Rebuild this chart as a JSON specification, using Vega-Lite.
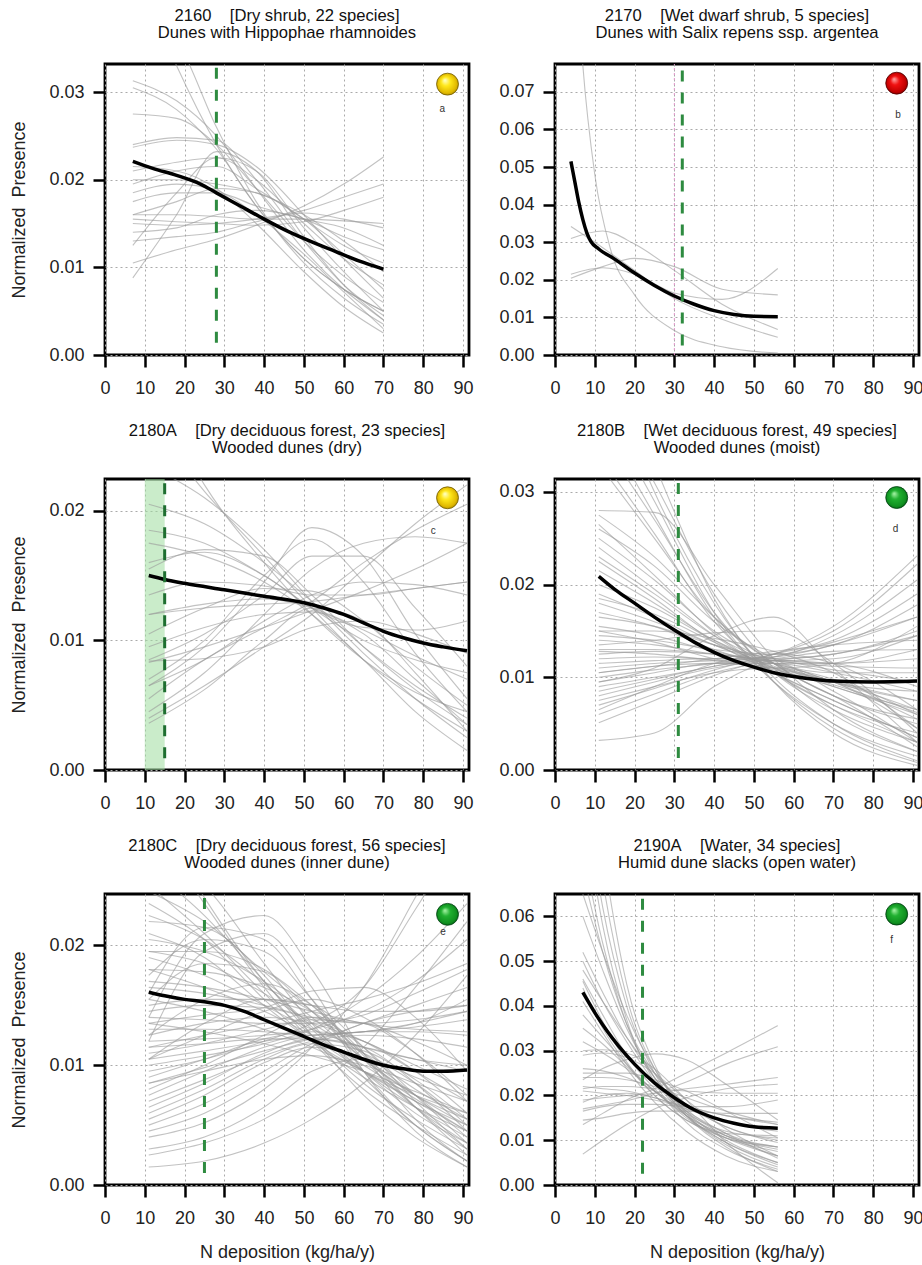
{
"$schema": "https://vega.github.io/schema/vega-lite/v6.json",
"padding": {"left": 9, "top": 7, "right": 3, "bottom": 2},
"config": {
 "font": "Liberation Sans",
 "view": {"stroke": "black", "strokeWidth": 2.8},
 "axis": {"domain": false, "tickColor": "black", "tickWidth": 2.5, "tickSize": 12, "labelFontSize": 18, "labelColor": "#222", "labelPadding": 9, "labelFlush": false, "labelOverlap": false, "grid": true, "gridColor": "#aaaaaa", "gridDash": [2, 3], "gridWidth": 1, "titleFontSize": 18, "titleFontWeight": "normal", "titleColor": "#222"},
 "axisY": {"titlePadding": 20},
 "axisX": {"titlePadding": 16, "labelPadding": 12},
 "title": {"fontSize": 16.6, "fontWeight": "normal", "color": "#111", "offset": 21, "lineHeight": 16.5}
},
"datasets": {
 "a": [
{"s":1,"x":7,"y":0.0313},{"s":1,"x":18,"y":0.029},{"s":1,"x":28,"y":0.025},{"s":1,"x":38,"y":0.019},{"s":1,"x":50,"y":0.012},{"s":1,"x":60,"y":0.0075},{"s":1,"x":70,"y":0.004},
{"s":2,"x":7,"y":0.0305},{"s":2,"x":18,"y":0.028},{"s":2,"x":28,"y":0.0235},{"s":2,"x":38,"y":0.017},{"s":2,"x":50,"y":0.011},{"s":2,"x":60,"y":0.0075},{"s":2,"x":70,"y":0.005},
{"s":3,"x":7,"y":0.0275},{"s":3,"x":18,"y":0.027},{"s":3,"x":28,"y":0.024},{"s":3,"x":38,"y":0.019},{"s":3,"x":50,"y":0.013},{"s":3,"x":60,"y":0.009},{"s":3,"x":70,"y":0.006},
{"s":4,"x":7,"y":0.024},{"s":4,"x":18,"y":0.0248},{"s":4,"x":28,"y":0.0245},{"s":4,"x":38,"y":0.02},{"s":4,"x":50,"y":0.013},{"s":4,"x":60,"y":0.008},{"s":4,"x":70,"y":0.0045},
{"s":5,"x":7,"y":0.021},{"s":5,"x":18,"y":0.022},{"s":5,"x":28,"y":0.0225},{"s":5,"x":38,"y":0.02},{"s":5,"x":50,"y":0.015},{"s":5,"x":60,"y":0.011},{"s":5,"x":70,"y":0.008},
{"s":6,"x":7,"y":0.0195},{"s":6,"x":18,"y":0.021},{"s":6,"x":28,"y":0.0215},{"s":6,"x":38,"y":0.019},{"s":6,"x":50,"y":0.0155},{"s":6,"x":60,"y":0.0125},{"s":6,"x":70,"y":0.0105},
{"s":7,"x":7,"y":0.0175},{"s":7,"x":18,"y":0.0185},{"s":7,"x":28,"y":0.0185},{"s":7,"x":38,"y":0.017},{"s":7,"x":50,"y":0.0155},{"s":7,"x":60,"y":0.0145},{"s":7,"x":70,"y":0.0125},
{"s":8,"x":7,"y":0.016},{"s":8,"x":18,"y":0.016},{"s":8,"x":28,"y":0.0158},{"s":8,"x":38,"y":0.0155},{"s":8,"x":50,"y":0.0155},{"s":8,"x":60,"y":0.0153},{"s":8,"x":70,"y":0.015},
{"s":9,"x":7,"y":0.0155},{"s":9,"x":18,"y":0.0152},{"s":9,"x":28,"y":0.015},{"s":9,"x":38,"y":0.0148},{"s":9,"x":50,"y":0.0152},{"s":9,"x":60,"y":0.0165},{"s":9,"x":70,"y":0.018},
{"s":10,"x":7,"y":0.015},{"s":10,"x":18,"y":0.0148},{"s":10,"x":28,"y":0.015},{"s":10,"x":38,"y":0.0155},{"s":10,"x":50,"y":0.0165},{"s":10,"x":60,"y":0.018},{"s":10,"x":70,"y":0.0195},
{"s":11,"x":7,"y":0.0105},{"s":11,"x":18,"y":0.012},{"s":11,"x":28,"y":0.0132},{"s":11,"x":38,"y":0.0148},{"s":11,"x":50,"y":0.017},{"s":11,"x":60,"y":0.0195},{"s":11,"x":70,"y":0.0226},
{"s":12,"x":7,"y":0.014},{"s":12,"x":18,"y":0.0145},{"s":12,"x":28,"y":0.016},{"s":12,"x":38,"y":0.0165},{"s":12,"x":50,"y":0.0155},{"s":12,"x":60,"y":0.0135},{"s":12,"x":70,"y":0.012},
{"s":13,"x":7,"y":0.0088},{"s":13,"x":18,"y":0.016},{"s":13,"x":28,"y":0.0232},{"s":13,"x":38,"y":0.021},{"s":13,"x":50,"y":0.0135},{"s":13,"x":60,"y":0.008},{"s":13,"x":70,"y":0.004},
{"s":14,"x":7,"y":0.0125},{"s":14,"x":18,"y":0.0185},{"s":14,"x":28,"y":0.0225},{"s":14,"x":38,"y":0.021},{"s":14,"x":50,"y":0.0145},{"s":14,"x":60,"y":0.0095},{"s":14,"x":70,"y":0.005},
{"s":15,"x":7,"y":0.045},{"s":15,"x":18,"y":0.033},{"s":15,"x":28,"y":0.024},{"s":15,"x":38,"y":0.017},{"s":15,"x":50,"y":0.011},{"s":15,"x":60,"y":0.0075},{"s":15,"x":70,"y":0.005},
{"s":16,"x":7,"y":0.04},{"s":16,"x":18,"y":0.036},{"s":16,"x":28,"y":0.026},{"s":16,"x":38,"y":0.0175},{"s":16,"x":50,"y":0.0105},{"s":16,"x":60,"y":0.0065},{"s":16,"x":70,"y":0.0035},
{"s":17,"x":7,"y":0.0237},{"s":17,"x":18,"y":0.0245},{"s":17,"x":28,"y":0.024},{"s":17,"x":38,"y":0.0215},{"s":17,"x":50,"y":0.016},{"s":17,"x":60,"y":0.011},{"s":17,"x":70,"y":0.0065},
{"s":18,"x":7,"y":0.02},{"s":18,"x":18,"y":0.02},{"s":18,"x":28,"y":0.0195},{"s":18,"x":38,"y":0.0185},{"s":18,"x":50,"y":0.016},{"s":18,"x":60,"y":0.013},{"s":18,"x":70,"y":0.0095},
{"s":19,"x":7,"y":0.016},{"s":19,"x":18,"y":0.0175},{"s":19,"x":28,"y":0.019},{"s":19,"x":38,"y":0.0185},{"s":19,"x":50,"y":0.0155},{"s":19,"x":60,"y":0.0115},{"s":19,"x":70,"y":0.0075},
{"s":20,"x":7,"y":0.0185},{"s":20,"x":18,"y":0.0195},{"s":20,"x":28,"y":0.0188},{"s":20,"x":38,"y":0.016},{"s":20,"x":50,"y":0.0115},{"s":20,"x":60,"y":0.0072},{"s":20,"x":70,"y":0.003},
{"s":21,"x":7,"y":0.0215},{"s":21,"x":18,"y":0.021},{"s":21,"x":28,"y":0.019},{"s":21,"x":38,"y":0.015},{"s":21,"x":50,"y":0.0095},{"s":21,"x":60,"y":0.0055},{"s":21,"x":70,"y":0.0025},
{"s":22,"x":7,"y":0.013},{"s":22,"x":18,"y":0.0135},{"s":22,"x":28,"y":0.014},{"s":22,"x":38,"y":0.0152},{"s":22,"x":50,"y":0.0162},{"s":22,"x":60,"y":0.0155},{"s":22,"x":70,"y":0.0145}
 ],
 "b": [
{"s":1,"x":4,"y":0.13},{"s":1,"x":7,"y":0.077},{"s":1,"x":10,"y":0.048},{"s":1,"x":14,"y":0.028},{"s":1,"x":20,"y":0.016},{"s":1,"x":30,"y":0.0065},{"s":1,"x":42,"y":0.0022},{"s":1,"x":56,"y":0.0005},
{"s":2,"x":4,"y":0.0342},{"s":2,"x":10,"y":0.03},{"s":2,"x":20,"y":0.0225},{"s":2,"x":30,"y":0.015},{"s":2,"x":42,"y":0.0095},{"s":2,"x":56,"y":0.0047},
{"s":3,"x":4,"y":0.031},{"s":3,"x":12,"y":0.033},{"s":3,"x":20,"y":0.0295},{"s":3,"x":30,"y":0.0225},{"s":3,"x":42,"y":0.0135},{"s":3,"x":56,"y":0.0068},
{"s":4,"x":4,"y":0.0204},{"s":4,"x":12,"y":0.0235},{"s":4,"x":20,"y":0.0257},{"s":4,"x":30,"y":0.0235},{"s":4,"x":42,"y":0.0175},{"s":4,"x":56,"y":0.016},
{"s":5,"x":4,"y":0.0215},{"s":5,"x":12,"y":0.0232},{"s":5,"x":20,"y":0.0215},{"s":5,"x":30,"y":0.0165},{"s":5,"x":42,"y":0.0148},{"s":5,"x":56,"y":0.023}
 ],
 "c": [
{"s":1,"x":11,"y":0.03},{"s":1,"x":25,"y":0.022},{"s":1,"x":40,"y":0.016},{"s":1,"x":52,"y":0.012},{"s":1,"x":65,"y":0.0085},{"s":1,"x":78,"y":0.006},{"s":1,"x":91,"y":0.0045},
{"s":2,"x":11,"y":0.027},{"s":2,"x":25,"y":0.0215},{"s":2,"x":40,"y":0.0165},{"s":2,"x":52,"y":0.0125},{"s":2,"x":65,"y":0.0085},{"s":2,"x":78,"y":0.0055},{"s":2,"x":91,"y":0.003},
{"s":3,"x":11,"y":0.0235},{"s":3,"x":25,"y":0.021},{"s":3,"x":40,"y":0.017},{"s":3,"x":52,"y":0.013},{"s":3,"x":65,"y":0.009},{"s":3,"x":78,"y":0.0055},{"s":3,"x":91,"y":0.0025},
{"s":4,"x":11,"y":0.0205},{"s":4,"x":25,"y":0.019},{"s":4,"x":40,"y":0.016},{"s":4,"x":52,"y":0.013},{"s":4,"x":65,"y":0.0095},{"s":4,"x":78,"y":0.0065},{"s":4,"x":91,"y":0.004},
{"s":5,"x":11,"y":0.0185},{"s":5,"x":25,"y":0.0175},{"s":5,"x":40,"y":0.015},{"s":5,"x":52,"y":0.0125},{"s":5,"x":65,"y":0.01},{"s":5,"x":78,"y":0.0085},{"s":5,"x":91,"y":0.0075},
{"s":6,"x":11,"y":0.0155},{"s":6,"x":25,"y":0.017},{"s":6,"x":40,"y":0.0165},{"s":6,"x":52,"y":0.0135},{"s":6,"x":65,"y":0.0095},{"s":6,"x":78,"y":0.0062},{"s":6,"x":91,"y":0.0035},
{"s":7,"x":11,"y":0.016},{"s":7,"x":25,"y":0.0168},{"s":7,"x":40,"y":0.015},{"s":7,"x":52,"y":0.0125},{"s":7,"x":65,"y":0.011},{"s":7,"x":78,"y":0.0108},{"s":7,"x":91,"y":0.0115},
{"s":8,"x":11,"y":0.0135},{"s":8,"x":25,"y":0.0145},{"s":8,"x":40,"y":0.0142},{"s":8,"x":52,"y":0.0135},{"s":8,"x":65,"y":0.0135},{"s":8,"x":78,"y":0.014},{"s":8,"x":91,"y":0.0145},
{"s":9,"x":11,"y":0.012},{"s":9,"x":25,"y":0.0125},{"s":9,"x":40,"y":0.0128},{"s":9,"x":52,"y":0.013},{"s":9,"x":65,"y":0.0135},{"s":9,"x":78,"y":0.014},{"s":9,"x":91,"y":0.0145},
{"s":10,"x":11,"y":0.0085},{"s":10,"x":25,"y":0.0105},{"s":10,"x":40,"y":0.0135},{"s":10,"x":52,"y":0.0165},{"s":10,"x":65,"y":0.0165},{"s":10,"x":78,"y":0.0125},{"s":10,"x":91,"y":0.008},
{"s":11,"x":11,"y":0.0065},{"s":11,"x":25,"y":0.0095},{"s":11,"x":40,"y":0.0145},{"s":11,"x":52,"y":0.0187},{"s":11,"x":65,"y":0.0165},{"s":11,"x":78,"y":0.0105},{"s":11,"x":91,"y":0.0055},
{"s":12,"x":11,"y":0.007},{"s":12,"x":25,"y":0.01},{"s":12,"x":40,"y":0.015},{"s":12,"x":52,"y":0.0178},{"s":12,"x":65,"y":0.0145},{"s":12,"x":78,"y":0.009},{"s":12,"x":91,"y":0.0045},
{"s":13,"x":11,"y":0.0045},{"s":13,"x":25,"y":0.0075},{"s":13,"x":40,"y":0.012},{"s":13,"x":52,"y":0.0155},{"s":13,"x":65,"y":0.0175},{"s":13,"x":78,"y":0.018},{"s":13,"x":91,"y":0.0175},
{"s":14,"x":11,"y":0.004},{"s":14,"x":25,"y":0.0065},{"s":14,"x":40,"y":0.0095},{"s":14,"x":52,"y":0.012},{"s":14,"x":65,"y":0.0155},{"s":14,"x":78,"y":0.019},{"s":14,"x":91,"y":0.022},
{"s":15,"x":11,"y":0.0055},{"s":15,"x":25,"y":0.0085},{"s":15,"x":40,"y":0.011},{"s":15,"x":52,"y":0.013},{"s":15,"x":65,"y":0.016},{"s":15,"x":78,"y":0.0185},{"s":15,"x":91,"y":0.0205},
{"s":16,"x":11,"y":0.0083},{"s":16,"x":25,"y":0.0095},{"s":16,"x":40,"y":0.011},{"s":16,"x":52,"y":0.0123},{"s":16,"x":65,"y":0.0138},{"s":16,"x":78,"y":0.0155},{"s":16,"x":91,"y":0.0175},
{"s":17,"x":11,"y":0.0084},{"s":17,"x":25,"y":0.0086},{"s":17,"x":40,"y":0.0095},{"s":17,"x":52,"y":0.011},{"s":17,"x":65,"y":0.0115},{"s":17,"x":78,"y":0.0105},{"s":17,"x":91,"y":0.009},
{"s":18,"x":11,"y":0.0036},{"s":18,"x":25,"y":0.0062},{"s":18,"x":40,"y":0.01},{"s":18,"x":52,"y":0.0125},{"s":18,"x":65,"y":0.0115},{"s":18,"x":78,"y":0.0075},{"s":18,"x":91,"y":0.003},
{"s":19,"x":11,"y":0.0095},{"s":19,"x":25,"y":0.011},{"s":19,"x":40,"y":0.012},{"s":19,"x":52,"y":0.0122},{"s":19,"x":65,"y":0.0105},{"s":19,"x":78,"y":0.007},{"s":19,"x":91,"y":0.0035},
{"s":20,"x":11,"y":0.0175},{"s":20,"x":25,"y":0.0165},{"s":20,"x":40,"y":0.0145},{"s":20,"x":52,"y":0.012},{"s":20,"x":65,"y":0.0085},{"s":20,"x":78,"y":0.0045},{"s":20,"x":91,"y":0.0015},
{"s":21,"x":11,"y":0.012},{"s":21,"x":25,"y":0.0128},{"s":21,"x":40,"y":0.0132},{"s":21,"x":52,"y":0.0125},{"s":21,"x":65,"y":0.0108},{"s":21,"x":78,"y":0.0088},{"s":21,"x":91,"y":0.007},
{"s":22,"x":11,"y":0.0065},{"s":22,"x":25,"y":0.0085},{"s":22,"x":40,"y":0.0115},{"s":22,"x":52,"y":0.0135},{"s":22,"x":65,"y":0.0145},{"s":22,"x":78,"y":0.0143},{"s":22,"x":91,"y":0.0135},
{"s":23,"x":11,"y":0.0105},{"s":23,"x":25,"y":0.0125},{"s":23,"x":40,"y":0.014},{"s":23,"x":52,"y":0.0138},{"s":23,"x":65,"y":0.0115},{"s":23,"x":78,"y":0.008},{"s":23,"x":91,"y":0.005}
 ],
 "d": [
{"s":1,"x":11,"y":0.045},{"s":1,"x":25,"y":0.03},{"s":1,"x":40,"y":0.018},{"s":1,"x":55,"y":0.01},{"s":1,"x":70,"y":0.005},{"s":1,"x":91,"y":0.001},
{"s":2,"x":11,"y":0.042},{"s":2,"x":25,"y":0.031},{"s":2,"x":40,"y":0.019},{"s":2,"x":55,"y":0.011},{"s":2,"x":70,"y":0.006},{"s":2,"x":91,"y":0.002},
{"s":3,"x":11,"y":0.04},{"s":3,"x":25,"y":0.029},{"s":3,"x":40,"y":0.017},{"s":3,"x":55,"y":0.0095},{"s":3,"x":70,"y":0.0045},{"s":3,"x":91,"y":0.0008},
{"s":4,"x":11,"y":0.038},{"s":4,"x":25,"y":0.0275},{"s":4,"x":40,"y":0.0165},{"s":4,"x":55,"y":0.0095},{"s":4,"x":70,"y":0.005},{"s":4,"x":91,"y":0.0015},
{"s":5,"x":11,"y":0.036},{"s":5,"x":25,"y":0.027},{"s":5,"x":40,"y":0.017},{"s":5,"x":55,"y":0.0105},{"s":5,"x":70,"y":0.0065},{"s":5,"x":91,"y":0.003},
{"s":6,"x":11,"y":0.034},{"s":6,"x":25,"y":0.0255},{"s":6,"x":40,"y":0.016},{"s":6,"x":55,"y":0.0105},{"s":6,"x":70,"y":0.007},{"s":6,"x":91,"y":0.004},
{"s":7,"x":11,"y":0.033},{"s":7,"x":25,"y":0.025},{"s":7,"x":40,"y":0.0165},{"s":7,"x":55,"y":0.0115},{"s":7,"x":70,"y":0.008},{"s":7,"x":91,"y":0.005},
{"s":8,"x":11,"y":0.048},{"s":8,"x":25,"y":0.033},{"s":8,"x":40,"y":0.0185},{"s":8,"x":55,"y":0.0095},{"s":8,"x":70,"y":0.004},{"s":8,"x":91,"y":0.0005},
{"s":9,"x":11,"y":0.028},{"s":9,"x":25,"y":0.0278},{"s":9,"x":40,"y":0.02},{"s":9,"x":55,"y":0.012},{"s":9,"x":70,"y":0.0065},{"s":9,"x":91,"y":0.002},
{"s":10,"x":11,"y":0.0275},{"s":10,"x":25,"y":0.023},{"s":10,"x":40,"y":0.0165},{"s":10,"x":55,"y":0.0115},{"s":10,"x":70,"y":0.008},{"s":10,"x":91,"y":0.0055},
{"s":11,"x":11,"y":0.026},{"s":11,"x":25,"y":0.022},{"s":11,"x":40,"y":0.016},{"s":11,"x":55,"y":0.012},{"s":11,"x":70,"y":0.0095},{"s":11,"x":91,"y":0.0075},
{"s":12,"x":11,"y":0.025},{"s":12,"x":25,"y":0.0205},{"s":12,"x":40,"y":0.015},{"s":12,"x":55,"y":0.0115},{"s":12,"x":70,"y":0.009},{"s":12,"x":91,"y":0.0065},
{"s":13,"x":11,"y":0.024},{"s":13,"x":25,"y":0.0195},{"s":13,"x":40,"y":0.0145},{"s":13,"x":55,"y":0.0105},{"s":13,"x":70,"y":0.0075},{"s":13,"x":91,"y":0.0035},
{"s":14,"x":11,"y":0.023},{"s":14,"x":25,"y":0.019},{"s":14,"x":40,"y":0.0145},{"s":14,"x":55,"y":0.0115},{"s":14,"x":70,"y":0.0095},{"s":14,"x":91,"y":0.0085},
{"s":15,"x":11,"y":0.0215},{"s":15,"x":25,"y":0.018},{"s":15,"x":40,"y":0.014},{"s":15,"x":55,"y":0.011},{"s":15,"x":70,"y":0.009},{"s":15,"x":91,"y":0.006},
{"s":16,"x":11,"y":0.02},{"s":16,"x":25,"y":0.0175},{"s":16,"x":40,"y":0.014},{"s":16,"x":55,"y":0.0115},{"s":16,"x":70,"y":0.0105},{"s":16,"x":91,"y":0.0105},
{"s":17,"x":11,"y":0.019},{"s":17,"x":25,"y":0.0165},{"s":17,"x":40,"y":0.0135},{"s":17,"x":55,"y":0.0115},{"s":17,"x":70,"y":0.0115},{"s":17,"x":91,"y":0.013},
{"s":18,"x":11,"y":0.018},{"s":18,"x":25,"y":0.016},{"s":18,"x":40,"y":0.0135},{"s":18,"x":55,"y":0.0112},{"s":18,"x":70,"y":0.0095},{"s":18,"x":91,"y":0.0045},
{"s":19,"x":11,"y":0.017},{"s":19,"x":25,"y":0.0155},{"s":19,"x":40,"y":0.013},{"s":19,"x":55,"y":0.011},{"s":19,"x":70,"y":0.0095},{"s":19,"x":91,"y":0.0065},
{"s":20,"x":11,"y":0.0165},{"s":20,"x":25,"y":0.0155},{"s":20,"x":40,"y":0.0135},{"s":20,"x":55,"y":0.012},{"s":20,"x":70,"y":0.0115},{"s":20,"x":91,"y":0.012},
{"s":21,"x":11,"y":0.0155},{"s":21,"x":25,"y":0.0145},{"s":21,"x":40,"y":0.0128},{"s":21,"x":55,"y":0.0118},{"s":21,"x":70,"y":0.012},{"s":21,"x":91,"y":0.0145},
{"s":22,"x":11,"y":0.015},{"s":22,"x":25,"y":0.015},{"s":22,"x":40,"y":0.0142},{"s":22,"x":55,"y":0.0128},{"s":22,"x":70,"y":0.0105},{"s":22,"x":91,"y":0.0045},
{"s":23,"x":11,"y":0.0145},{"s":23,"x":25,"y":0.014},{"s":23,"x":40,"y":0.013},{"s":23,"x":55,"y":0.0125},{"s":23,"x":70,"y":0.0135},{"s":23,"x":91,"y":0.0178},
{"s":24,"x":11,"y":0.014},{"s":24,"x":25,"y":0.0135},{"s":24,"x":40,"y":0.0125},{"s":24,"x":55,"y":0.0118},{"s":24,"x":70,"y":0.0112},{"s":24,"x":91,"y":0.011},
{"s":25,"x":11,"y":0.013},{"s":25,"x":25,"y":0.013},{"s":25,"x":40,"y":0.0125},{"s":25,"x":55,"y":0.012},{"s":25,"x":70,"y":0.0125},{"s":25,"x":91,"y":0.015},
{"s":26,"x":11,"y":0.0125},{"s":26,"x":25,"y":0.0128},{"s":26,"x":40,"y":0.0125},{"s":26,"x":55,"y":0.0115},{"s":26,"x":70,"y":0.0095},{"s":26,"x":91,"y":0.0055},
{"s":27,"x":11,"y":0.012},{"s":27,"x":25,"y":0.0122},{"s":27,"x":40,"y":0.012},{"s":27,"x":55,"y":0.0122},{"s":27,"x":70,"y":0.0135},{"s":27,"x":91,"y":0.0165},
{"s":28,"x":11,"y":0.011},{"s":28,"x":25,"y":0.0115},{"s":28,"x":40,"y":0.0118},{"s":28,"x":55,"y":0.0122},{"s":28,"x":70,"y":0.0145},{"s":28,"x":91,"y":0.0205},
{"s":29,"x":11,"y":0.0105},{"s":29,"x":25,"y":0.0112},{"s":29,"x":40,"y":0.0115},{"s":29,"x":55,"y":0.011},{"s":29,"x":70,"y":0.0095},{"s":29,"x":91,"y":0.0075},
{"s":30,"x":11,"y":0.01},{"s":30,"x":25,"y":0.0108},{"s":30,"x":40,"y":0.0115},{"s":30,"x":55,"y":0.0125},{"s":30,"x":70,"y":0.015},{"s":30,"x":91,"y":0.0222},
{"s":31,"x":11,"y":0.0095},{"s":31,"x":25,"y":0.0105},{"s":31,"x":40,"y":0.0115},{"s":31,"x":55,"y":0.0115},{"s":31,"x":70,"y":0.0105},{"s":31,"x":91,"y":0.0085},
{"s":32,"x":11,"y":0.009},{"s":32,"x":25,"y":0.01},{"s":32,"x":40,"y":0.0112},{"s":32,"x":55,"y":0.0125},{"s":32,"x":70,"y":0.0155},{"s":32,"x":91,"y":0.0231},
{"s":33,"x":11,"y":0.0085},{"s":33,"x":25,"y":0.0098},{"s":33,"x":40,"y":0.0112},{"s":33,"x":55,"y":0.012},{"s":33,"x":70,"y":0.0128},{"s":33,"x":91,"y":0.013},
{"s":34,"x":11,"y":0.008},{"s":34,"x":25,"y":0.0095},{"s":34,"x":40,"y":0.011},{"s":34,"x":55,"y":0.0118},{"s":34,"x":70,"y":0.0115},{"s":34,"x":91,"y":0.009},
{"s":35,"x":11,"y":0.007},{"s":35,"x":25,"y":0.0088},{"s":35,"x":40,"y":0.0108},{"s":35,"x":55,"y":0.0125},{"s":35,"x":70,"y":0.014},{"s":35,"x":91,"y":0.019},
{"s":36,"x":11,"y":0.006},{"s":36,"x":25,"y":0.0082},{"s":36,"x":40,"y":0.0105},{"s":36,"x":55,"y":0.0118},{"s":36,"x":70,"y":0.0125},{"s":36,"x":91,"y":0.0145},
{"s":37,"x":11,"y":0.0051},{"s":37,"x":25,"y":0.0075},{"s":37,"x":40,"y":0.0102},{"s":37,"x":55,"y":0.0122},{"s":37,"x":70,"y":0.0138},{"s":37,"x":91,"y":0.0165},
{"s":38,"x":11,"y":0.0032},{"s":38,"x":25,"y":0.004},{"s":38,"x":40,"y":0.009},{"s":38,"x":55,"y":0.0115},{"s":38,"x":70,"y":0.0085},{"s":38,"x":91,"y":0.003},
{"s":39,"x":11,"y":0.0095},{"s":39,"x":25,"y":0.011},{"s":39,"x":40,"y":0.0145},{"s":39,"x":55,"y":0.0165},{"s":39,"x":70,"y":0.011},{"s":39,"x":91,"y":0.003},
{"s":40,"x":11,"y":0.0135},{"s":40,"x":25,"y":0.014},{"s":40,"x":40,"y":0.0148},{"s":40,"x":55,"y":0.015},{"s":40,"x":70,"y":0.0115},{"s":40,"x":91,"y":0.004},
{"s":41,"x":11,"y":0.0065},{"s":41,"x":25,"y":0.009},{"s":41,"x":40,"y":0.0115},{"s":41,"x":55,"y":0.0125},{"s":41,"x":70,"y":0.0115},{"s":41,"x":91,"y":0.0065},
{"s":42,"x":11,"y":0.0185},{"s":42,"x":25,"y":0.0168},{"s":42,"x":40,"y":0.0138},{"s":42,"x":55,"y":0.011},{"s":42,"x":70,"y":0.008},{"s":42,"x":91,"y":0.0025},
{"s":43,"x":11,"y":0.0225},{"s":43,"x":25,"y":0.0185},{"s":43,"x":40,"y":0.0138},{"s":43,"x":55,"y":0.0105},{"s":43,"x":70,"y":0.0075},{"s":43,"x":91,"y":0.0035},
{"s":44,"x":11,"y":0.0265},{"s":44,"x":25,"y":0.021},{"s":44,"x":40,"y":0.0148},{"s":44,"x":55,"y":0.0105},{"s":44,"x":70,"y":0.007},{"s":44,"x":91,"y":0.003},
{"s":45,"x":11,"y":0.0115},{"s":45,"x":25,"y":0.0118},{"s":45,"x":40,"y":0.012},{"s":45,"x":55,"y":0.0118},{"s":45,"x":70,"y":0.0108},{"s":45,"x":91,"y":0.0095},
{"s":46,"x":11,"y":0.0105},{"s":46,"x":25,"y":0.0112},{"s":46,"x":40,"y":0.012},{"s":46,"x":55,"y":0.0128},{"s":46,"x":70,"y":0.0135},{"s":46,"x":91,"y":0.014},
{"s":47,"x":11,"y":0.015},{"s":47,"x":25,"y":0.0138},{"s":47,"x":40,"y":0.012},{"s":47,"x":55,"y":0.011},{"s":47,"x":70,"y":0.0115},{"s":47,"x":91,"y":0.0155},
{"s":48,"x":11,"y":0.0075},{"s":48,"x":25,"y":0.009},{"s":48,"x":40,"y":0.0105},{"s":48,"x":55,"y":0.011},{"s":48,"x":70,"y":0.0098},{"s":48,"x":91,"y":0.006},
{"s":49,"x":11,"y":0.0128},{"s":49,"x":25,"y":0.0125},{"s":49,"x":40,"y":0.0118},{"s":49,"x":55,"y":0.0108},{"s":49,"x":70,"y":0.0092},{"s":49,"x":91,"y":0.0062}
 ],
 "e": [
{"s":1,"x":11,"y":0.032},{"s":1,"x":25,"y":0.024},{"s":1,"x":40,"y":0.017},{"s":1,"x":52,"y":0.013},{"s":1,"x":65,"y":0.0095},{"s":1,"x":78,"y":0.0065},{"s":1,"x":91,"y":0.004},
{"s":2,"x":11,"y":0.03},{"s":2,"x":25,"y":0.0235},{"s":2,"x":40,"y":0.0165},{"s":2,"x":52,"y":0.012},{"s":2,"x":65,"y":0.008},{"s":2,"x":78,"y":0.005},{"s":2,"x":91,"y":0.0025},
{"s":3,"x":11,"y":0.028},{"s":3,"x":25,"y":0.025},{"s":3,"x":40,"y":0.0185},{"s":3,"x":52,"y":0.0135},{"s":3,"x":65,"y":0.009},{"s":3,"x":78,"y":0.005},{"s":3,"x":91,"y":0.002},
{"s":4,"x":11,"y":0.0265},{"s":4,"x":25,"y":0.0225},{"s":4,"x":40,"y":0.017},{"s":4,"x":52,"y":0.0125},{"s":4,"x":65,"y":0.0085},{"s":4,"x":78,"y":0.0055},{"s":4,"x":91,"y":0.003},
{"s":5,"x":11,"y":0.025},{"s":5,"x":25,"y":0.021},{"s":5,"x":40,"y":0.016},{"s":5,"x":52,"y":0.0125},{"s":5,"x":65,"y":0.0095},{"s":5,"x":78,"y":0.007},{"s":5,"x":91,"y":0.005},
{"s":6,"x":11,"y":0.0235},{"s":6,"x":25,"y":0.0205},{"s":6,"x":40,"y":0.0155},{"s":6,"x":52,"y":0.012},{"s":6,"x":65,"y":0.009},{"s":6,"x":78,"y":0.0065},{"s":6,"x":91,"y":0.0045},
{"s":7,"x":11,"y":0.022},{"s":7,"x":25,"y":0.0215},{"s":7,"x":40,"y":0.0175},{"s":7,"x":52,"y":0.0125},{"s":7,"x":65,"y":0.0075},{"s":7,"x":78,"y":0.004},{"s":7,"x":91,"y":0.0015},
{"s":8,"x":11,"y":0.021},{"s":8,"x":25,"y":0.019},{"s":8,"x":40,"y":0.015},{"s":8,"x":52,"y":0.012},{"s":8,"x":65,"y":0.0095},{"s":8,"x":78,"y":0.0075},{"s":8,"x":91,"y":0.006},
{"s":9,"x":11,"y":0.0205},{"s":9,"x":25,"y":0.0195},{"s":9,"x":40,"y":0.017},{"s":9,"x":52,"y":0.014},{"s":9,"x":65,"y":0.0105},{"s":9,"x":78,"y":0.0075},{"s":9,"x":91,"y":0.005},
{"s":10,"x":11,"y":0.0195},{"s":10,"x":25,"y":0.0185},{"s":10,"x":40,"y":0.016},{"s":10,"x":52,"y":0.0135},{"s":10,"x":65,"y":0.011},{"s":10,"x":78,"y":0.009},{"s":10,"x":91,"y":0.0075},
{"s":11,"x":11,"y":0.019},{"s":11,"x":25,"y":0.0175},{"s":11,"x":40,"y":0.015},{"s":11,"x":52,"y":0.013},{"s":11,"x":65,"y":0.0115},{"s":11,"x":78,"y":0.0105},{"s":11,"x":91,"y":0.01},
{"s":12,"x":11,"y":0.018},{"s":12,"x":25,"y":0.0178},{"s":12,"x":40,"y":0.0165},{"s":12,"x":52,"y":0.0145},{"s":12,"x":65,"y":0.0115},{"s":12,"x":78,"y":0.0075},{"s":12,"x":91,"y":0.0035},
{"s":13,"x":11,"y":0.014},{"s":13,"x":25,"y":0.021},{"s":13,"x":40,"y":0.0225},{"s":13,"x":52,"y":0.018},{"s":13,"x":65,"y":0.011},{"s":13,"x":78,"y":0.0055},{"s":13,"x":91,"y":0.002},
{"s":14,"x":11,"y":0.012},{"s":14,"x":25,"y":0.0195},{"s":14,"x":40,"y":0.021},{"s":14,"x":52,"y":0.0165},{"s":14,"x":65,"y":0.0095},{"s":14,"x":78,"y":0.0045},{"s":14,"x":91,"y":0.0015},
{"s":15,"x":11,"y":0.016},{"s":15,"x":25,"y":0.0215},{"s":15,"x":40,"y":0.0205},{"s":15,"x":52,"y":0.0155},{"s":15,"x":65,"y":0.0095},{"s":15,"x":78,"y":0.005},{"s":15,"x":91,"y":0.002},
{"s":16,"x":11,"y":0.0175},{"s":16,"x":25,"y":0.0205},{"s":16,"x":40,"y":0.0195},{"s":16,"x":52,"y":0.0155},{"s":16,"x":65,"y":0.0105},{"s":16,"x":78,"y":0.0065},{"s":16,"x":91,"y":0.0035},
{"s":17,"x":11,"y":0.0155},{"s":17,"x":25,"y":0.0185},{"s":17,"x":40,"y":0.0178},{"s":17,"x":52,"y":0.0145},{"s":17,"x":65,"y":0.0105},{"s":17,"x":78,"y":0.0075},{"s":17,"x":91,"y":0.0055},
{"s":18,"x":11,"y":0.017},{"s":18,"x":25,"y":0.0165},{"s":18,"x":40,"y":0.0155},{"s":18,"x":52,"y":0.0145},{"s":18,"x":65,"y":0.0135},{"s":18,"x":78,"y":0.013},{"s":18,"x":91,"y":0.0128},
{"s":19,"x":11,"y":0.0165},{"s":19,"x":25,"y":0.016},{"s":19,"x":40,"y":0.015},{"s":19,"x":52,"y":0.014},{"s":19,"x":65,"y":0.0135},{"s":19,"x":78,"y":0.0138},{"s":19,"x":91,"y":0.0145},
{"s":20,"x":11,"y":0.015},{"s":20,"x":25,"y":0.0155},{"s":20,"x":40,"y":0.0155},{"s":20,"x":52,"y":0.015},{"s":20,"x":65,"y":0.0145},{"s":20,"x":78,"y":0.0145},{"s":20,"x":91,"y":0.015},
{"s":21,"x":11,"y":0.0145},{"s":21,"x":25,"y":0.015},{"s":21,"x":40,"y":0.0148},{"s":21,"x":52,"y":0.0138},{"s":21,"x":65,"y":0.012},{"s":21,"x":78,"y":0.0095},{"s":21,"x":91,"y":0.007},
{"s":22,"x":11,"y":0.014},{"s":22,"x":25,"y":0.0138},{"s":22,"x":40,"y":0.0135},{"s":22,"x":52,"y":0.0135},{"s":22,"x":65,"y":0.0142},{"s":22,"x":78,"y":0.016},{"s":22,"x":91,"y":0.018},
{"s":23,"x":11,"y":0.0135},{"s":23,"x":25,"y":0.0142},{"s":23,"x":40,"y":0.0148},{"s":23,"x":52,"y":0.0162},{"s":23,"x":65,"y":0.0165},{"s":23,"x":78,"y":0.014},{"s":23,"x":91,"y":0.0095},
{"s":24,"x":11,"y":0.013},{"s":24,"x":25,"y":0.013},{"s":24,"x":40,"y":0.0128},{"s":24,"x":52,"y":0.0125},{"s":24,"x":65,"y":0.0128},{"s":24,"x":78,"y":0.0135},{"s":24,"x":91,"y":0.0145},
{"s":25,"x":11,"y":0.0125},{"s":25,"x":25,"y":0.0135},{"s":25,"x":40,"y":0.014},{"s":25,"x":52,"y":0.0135},{"s":25,"x":65,"y":0.012},{"s":25,"x":78,"y":0.01},{"s":25,"x":91,"y":0.008},
{"s":26,"x":11,"y":0.012},{"s":26,"x":25,"y":0.0122},{"s":26,"x":40,"y":0.0125},{"s":26,"x":52,"y":0.013},{"s":26,"x":65,"y":0.0145},{"s":26,"x":78,"y":0.017},{"s":26,"x":91,"y":0.0205},
{"s":27,"x":11,"y":0.0115},{"s":27,"x":25,"y":0.0118},{"s":27,"x":40,"y":0.0122},{"s":27,"x":52,"y":0.0122},{"s":27,"x":65,"y":0.0115},{"s":27,"x":78,"y":0.0105},{"s":27,"x":91,"y":0.0095},
{"s":28,"x":11,"y":0.011},{"s":28,"x":25,"y":0.0118},{"s":28,"x":40,"y":0.013},{"s":28,"x":52,"y":0.0138},{"s":28,"x":65,"y":0.0135},{"s":28,"x":78,"y":0.012},{"s":28,"x":91,"y":0.01},
{"s":29,"x":11,"y":0.0105},{"s":29,"x":25,"y":0.0112},{"s":29,"x":40,"y":0.012},{"s":29,"x":52,"y":0.0125},{"s":29,"x":65,"y":0.0128},{"s":29,"x":78,"y":0.0132},{"s":29,"x":91,"y":0.0138},
{"s":30,"x":11,"y":0.01},{"s":30,"x":25,"y":0.0108},{"s":30,"x":40,"y":0.0118},{"s":30,"x":52,"y":0.013},{"s":30,"x":65,"y":0.0155},{"s":30,"x":78,"y":0.019},{"s":30,"x":91,"y":0.0235},
{"s":31,"x":11,"y":0.0095},{"s":31,"x":25,"y":0.0105},{"s":31,"x":40,"y":0.012},{"s":31,"x":52,"y":0.0135},{"s":31,"x":65,"y":0.0165},{"s":31,"x":78,"y":0.023},{"s":31,"x":91,"y":0.03},
{"s":32,"x":11,"y":0.009},{"s":32,"x":25,"y":0.0105},{"s":32,"x":40,"y":0.0122},{"s":32,"x":52,"y":0.0128},{"s":32,"x":65,"y":0.012},{"s":32,"x":78,"y":0.0095},{"s":32,"x":91,"y":0.006},
{"s":33,"x":11,"y":0.0085},{"s":33,"x":25,"y":0.0098},{"s":33,"x":40,"y":0.0112},{"s":33,"x":52,"y":0.0122},{"s":33,"x":65,"y":0.0128},{"s":33,"x":78,"y":0.0128},{"s":33,"x":91,"y":0.0125},
{"s":34,"x":11,"y":0.008},{"s":34,"x":25,"y":0.01},{"s":34,"x":40,"y":0.0125},{"s":34,"x":52,"y":0.014},{"s":34,"x":65,"y":0.0135},{"s":34,"x":78,"y":0.011},{"s":34,"x":91,"y":0.0075},
{"s":35,"x":11,"y":0.0075},{"s":35,"x":25,"y":0.0095},{"s":35,"x":40,"y":0.0115},{"s":35,"x":52,"y":0.0125},{"s":35,"x":65,"y":0.0128},{"s":35,"x":78,"y":0.0135},{"s":35,"x":91,"y":0.0155},
{"s":36,"x":11,"y":0.007},{"s":36,"x":25,"y":0.0088},{"s":36,"x":40,"y":0.0108},{"s":36,"x":52,"y":0.012},{"s":36,"x":65,"y":0.0125},{"s":36,"x":78,"y":0.0122},{"s":36,"x":91,"y":0.0115},
{"s":37,"x":11,"y":0.0065},{"s":37,"x":25,"y":0.0085},{"s":37,"x":40,"y":0.011},{"s":37,"x":52,"y":0.0122},{"s":37,"x":65,"y":0.0115},{"s":37,"x":78,"y":0.0085},{"s":37,"x":91,"y":0.0045},
{"s":38,"x":11,"y":0.006},{"s":38,"x":25,"y":0.008},{"s":38,"x":40,"y":0.0105},{"s":38,"x":52,"y":0.0118},{"s":38,"x":65,"y":0.0112},{"s":38,"x":78,"y":0.0088},{"s":38,"x":91,"y":0.0055},
{"s":39,"x":11,"y":0.0055},{"s":39,"x":25,"y":0.0075},{"s":39,"x":40,"y":0.0102},{"s":39,"x":52,"y":0.0115},{"s":39,"x":65,"y":0.0105},{"s":39,"x":78,"y":0.0075},{"s":39,"x":91,"y":0.004},
{"s":40,"x":11,"y":0.005},{"s":40,"x":25,"y":0.0068},{"s":40,"x":40,"y":0.0095},{"s":40,"x":52,"y":0.0118},{"s":40,"x":65,"y":0.0135},{"s":40,"x":78,"y":0.015},{"s":40,"x":91,"y":0.0165},
{"s":41,"x":11,"y":0.0045},{"s":41,"x":25,"y":0.006},{"s":41,"x":40,"y":0.0088},{"s":41,"x":52,"y":0.0115},{"s":41,"x":65,"y":0.0135},{"s":41,"x":78,"y":0.0145},{"s":41,"x":91,"y":0.015},
{"s":42,"x":11,"y":0.004},{"s":42,"x":25,"y":0.0052},{"s":42,"x":40,"y":0.008},{"s":42,"x":52,"y":0.0115},{"s":42,"x":65,"y":0.0165},{"s":42,"x":78,"y":0.024},{"s":42,"x":91,"y":0.032},
{"s":43,"x":11,"y":0.003},{"s":43,"x":25,"y":0.004},{"s":43,"x":40,"y":0.0065},{"s":43,"x":52,"y":0.0095},{"s":43,"x":65,"y":0.0105},{"s":43,"x":78,"y":0.0085},{"s":43,"x":91,"y":0.005},
{"s":44,"x":11,"y":0.0025},{"s":44,"x":25,"y":0.0035},{"s":44,"x":40,"y":0.0055},{"s":44,"x":52,"y":0.008},{"s":44,"x":65,"y":0.0115},{"s":44,"x":78,"y":0.0165},{"s":44,"x":91,"y":0.022},
{"s":45,"x":11,"y":0.0015},{"s":45,"x":25,"y":0.002},{"s":45,"x":40,"y":0.0035},{"s":45,"x":52,"y":0.0055},{"s":45,"x":65,"y":0.0085},{"s":45,"x":78,"y":0.0125},{"s":45,"x":91,"y":0.0175},
{"s":46,"x":11,"y":0.0105},{"s":46,"x":25,"y":0.0135},{"s":46,"x":40,"y":0.0155},{"s":46,"x":52,"y":0.015},{"s":46,"x":65,"y":0.0115},{"s":46,"x":78,"y":0.007},{"s":46,"x":91,"y":0.003},
{"s":47,"x":11,"y":0.0125},{"s":47,"x":25,"y":0.0155},{"s":47,"x":40,"y":0.0168},{"s":47,"x":52,"y":0.015},{"s":47,"x":65,"y":0.011},{"s":47,"x":78,"y":0.0065},{"s":47,"x":91,"y":0.0025},
{"s":48,"x":11,"y":0.0195},{"s":48,"x":25,"y":0.0195},{"s":48,"x":40,"y":0.018},{"s":48,"x":52,"y":0.015},{"s":48,"x":65,"y":0.0108},{"s":48,"x":78,"y":0.0065},{"s":48,"x":91,"y":0.003},
{"s":49,"x":11,"y":0.0225},{"s":49,"x":25,"y":0.0205},{"s":49,"x":40,"y":0.0168},{"s":49,"x":52,"y":0.0132},{"s":49,"x":65,"y":0.0095},{"s":49,"x":78,"y":0.006},{"s":49,"x":91,"y":0.0035},
{"s":50,"x":11,"y":0.0085},{"s":50,"x":25,"y":0.0095},{"s":50,"x":40,"y":0.0105},{"s":50,"x":52,"y":0.0108},{"s":50,"x":65,"y":0.01},{"s":50,"x":78,"y":0.0085},{"s":50,"x":91,"y":0.007},
{"s":51,"x":11,"y":0.0135},{"s":51,"x":25,"y":0.0128},{"s":51,"x":40,"y":0.0118},{"s":51,"x":52,"y":0.0108},{"s":51,"x":65,"y":0.0095},{"s":51,"x":78,"y":0.0078},{"s":51,"x":91,"y":0.006},
{"s":52,"x":11,"y":0.0155},{"s":52,"x":25,"y":0.0145},{"s":52,"x":40,"y":0.013},{"s":52,"x":52,"y":0.0115},{"s":52,"x":65,"y":0.0095},{"s":52,"x":78,"y":0.007},{"s":52,"x":91,"y":0.0045},
{"s":53,"x":11,"y":0.0105},{"s":53,"x":25,"y":0.0125},{"s":53,"x":40,"y":0.0145},{"s":53,"x":52,"y":0.0155},{"s":53,"x":65,"y":0.014},{"s":53,"x":78,"y":0.011},{"s":53,"x":91,"y":0.007},
{"s":54,"x":11,"y":0.018},{"s":54,"x":25,"y":0.0165},{"s":54,"x":40,"y":0.0145},{"s":54,"x":52,"y":0.0125},{"s":54,"x":65,"y":0.01},{"s":54,"x":78,"y":0.0072},{"s":54,"x":91,"y":0.0045},
{"s":55,"x":11,"y":0.0245},{"s":55,"x":25,"y":0.022},{"s":55,"x":40,"y":0.0178},{"s":55,"x":52,"y":0.0145},{"s":55,"x":65,"y":0.011},{"s":55,"x":78,"y":0.008},{"s":55,"x":91,"y":0.0055},
{"s":56,"x":11,"y":0.0115},{"s":56,"x":25,"y":0.0125},{"s":56,"x":40,"y":0.0135},{"s":56,"x":52,"y":0.0145},{"s":56,"x":65,"y":0.0155},{"s":56,"x":78,"y":0.0168},{"s":56,"x":91,"y":0.0185}
 ],
 "f": [
{"s":1,"x":7,"y":0.11},{"s":1,"x":12,"y":0.075},{"s":1,"x":18,"y":0.045},{"s":1,"x":25,"y":0.027},{"s":1,"x":33,"y":0.016},{"s":1,"x":43,"y":0.009},{"s":1,"x":56,"y":0.004},
{"s":2,"x":7,"y":0.1},{"s":2,"x":12,"y":0.068},{"s":2,"x":18,"y":0.042},{"s":2,"x":25,"y":0.026},{"s":2,"x":33,"y":0.0165},{"s":2,"x":43,"y":0.01},{"s":2,"x":56,"y":0.005},
{"s":3,"x":7,"y":0.09},{"s":3,"x":12,"y":0.062},{"s":3,"x":18,"y":0.04},{"s":3,"x":25,"y":0.025},{"s":3,"x":33,"y":0.0155},{"s":3,"x":43,"y":0.0085},{"s":3,"x":56,"y":0.003},
{"s":4,"x":7,"y":0.085},{"s":4,"x":12,"y":0.058},{"s":4,"x":18,"y":0.037},{"s":4,"x":25,"y":0.023},{"s":4,"x":33,"y":0.014},{"s":4,"x":43,"y":0.008},{"s":4,"x":56,"y":0.0035},
{"s":5,"x":7,"y":0.075},{"s":5,"x":12,"y":0.054},{"s":5,"x":18,"y":0.036},{"s":5,"x":25,"y":0.024},{"s":5,"x":33,"y":0.016},{"s":5,"x":43,"y":0.011},{"s":5,"x":56,"y":0.008},
{"s":6,"x":7,"y":0.07},{"s":6,"x":12,"y":0.052},{"s":6,"x":18,"y":0.036},{"s":6,"x":25,"y":0.025},{"s":6,"x":33,"y":0.018},{"s":6,"x":43,"y":0.013},{"s":6,"x":56,"y":0.0095},
{"s":7,"x":7,"y":0.052},{"s":7,"x":12,"y":0.043},{"s":7,"x":18,"y":0.033},{"s":7,"x":25,"y":0.024},{"s":7,"x":33,"y":0.0165},{"s":7,"x":43,"y":0.011},{"s":7,"x":56,"y":0.0065},
{"s":8,"x":7,"y":0.05},{"s":8,"x":12,"y":0.041},{"s":8,"x":18,"y":0.032},{"s":8,"x":25,"y":0.023},{"s":8,"x":33,"y":0.0155},{"s":8,"x":43,"y":0.0095},{"s":8,"x":56,"y":0.0045},
{"s":9,"x":7,"y":0.048},{"s":9,"x":12,"y":0.041},{"s":9,"x":18,"y":0.033},{"s":9,"x":25,"y":0.025},{"s":9,"x":33,"y":0.018},{"s":9,"x":43,"y":0.013},{"s":9,"x":56,"y":0.01},
{"s":10,"x":7,"y":0.046},{"s":10,"x":12,"y":0.038},{"s":10,"x":18,"y":0.029},{"s":10,"x":25,"y":0.0215},{"s":10,"x":33,"y":0.015},{"s":10,"x":43,"y":0.0105},{"s":10,"x":56,"y":0.0075},
{"s":11,"x":7,"y":0.044},{"s":11,"x":12,"y":0.035},{"s":11,"x":18,"y":0.027},{"s":11,"x":25,"y":0.02},{"s":11,"x":33,"y":0.0145},{"s":11,"x":43,"y":0.0115},{"s":11,"x":56,"y":0.011},
{"s":12,"x":7,"y":0.03},{"s":12,"x":12,"y":0.0302},{"s":12,"x":18,"y":0.0295},{"s":12,"x":25,"y":0.026},{"s":12,"x":33,"y":0.019},{"s":12,"x":43,"y":0.0095},{"s":12,"x":56,"y":0.0005},
{"s":13,"x":7,"y":0.029},{"s":13,"x":12,"y":0.0295},{"s":13,"x":18,"y":0.0285},{"s":13,"x":25,"y":0.025},{"s":13,"x":33,"y":0.019},{"s":13,"x":43,"y":0.0125},{"s":13,"x":56,"y":0.0065},
{"s":14,"x":7,"y":0.0235},{"s":14,"x":12,"y":0.026},{"s":14,"x":18,"y":0.028},{"s":14,"x":25,"y":0.0293},{"s":14,"x":33,"y":0.028},{"s":14,"x":43,"y":0.0225},{"s":14,"x":56,"y":0.0145},
{"s":15,"x":7,"y":0.024},{"s":15,"x":12,"y":0.024},{"s":15,"x":18,"y":0.0235},{"s":15,"x":25,"y":0.022},{"s":15,"x":33,"y":0.0195},{"s":15,"x":43,"y":0.0165},{"s":15,"x":56,"y":0.0135},
{"s":16,"x":7,"y":0.0215},{"s":16,"x":12,"y":0.022},{"s":16,"x":18,"y":0.022},{"s":16,"x":25,"y":0.0215},{"s":16,"x":33,"y":0.021},{"s":16,"x":43,"y":0.0205},{"s":16,"x":56,"y":0.0205},
{"s":17,"x":7,"y":0.019},{"s":17,"x":12,"y":0.0195},{"s":17,"x":18,"y":0.02},{"s":17,"x":25,"y":0.0205},{"s":17,"x":33,"y":0.0215},{"s":17,"x":43,"y":0.0225},{"s":17,"x":56,"y":0.024},
{"s":18,"x":7,"y":0.017},{"s":18,"x":12,"y":0.0178},{"s":18,"x":18,"y":0.0188},{"s":18,"x":25,"y":0.0205},{"s":18,"x":33,"y":0.023},{"s":18,"x":43,"y":0.027},{"s":18,"x":56,"y":0.0309},
{"s":19,"x":7,"y":0.0135},{"s":19,"x":12,"y":0.016},{"s":19,"x":18,"y":0.019},{"s":19,"x":25,"y":0.0215},{"s":19,"x":33,"y":0.025},{"s":19,"x":43,"y":0.0295},{"s":19,"x":56,"y":0.0356},
{"s":20,"x":7,"y":0.0069},{"s":20,"x":12,"y":0.01},{"s":20,"x":18,"y":0.0135},{"s":20,"x":25,"y":0.017},{"s":20,"x":33,"y":0.0195},{"s":20,"x":43,"y":0.0215},{"s":20,"x":56,"y":0.0225},
{"s":21,"x":7,"y":0.0165},{"s":21,"x":12,"y":0.0175},{"s":21,"x":18,"y":0.018},{"s":21,"x":25,"y":0.018},{"s":21,"x":33,"y":0.0175},{"s":21,"x":43,"y":0.0175},{"s":21,"x":56,"y":0.019},
{"s":22,"x":7,"y":0.026},{"s":22,"x":12,"y":0.0255},{"s":22,"x":18,"y":0.024},{"s":22,"x":25,"y":0.021},{"s":22,"x":33,"y":0.0165},{"s":22,"x":43,"y":0.0115},{"s":22,"x":56,"y":0.006},
{"s":23,"x":7,"y":0.0185},{"s":23,"x":12,"y":0.02},{"s":23,"x":18,"y":0.0205},{"s":23,"x":25,"y":0.0195},{"s":23,"x":33,"y":0.017},{"s":23,"x":43,"y":0.014},{"s":23,"x":56,"y":0.012},
{"s":24,"x":7,"y":0.032},{"s":24,"x":12,"y":0.0295},{"s":24,"x":18,"y":0.026},{"s":24,"x":25,"y":0.021},{"s":24,"x":33,"y":0.0155},{"s":24,"x":43,"y":0.011},{"s":24,"x":56,"y":0.0085},
{"s":25,"x":7,"y":0.038},{"s":25,"x":12,"y":0.033},{"s":25,"x":18,"y":0.027},{"s":25,"x":25,"y":0.021},{"s":25,"x":33,"y":0.016},{"s":25,"x":43,"y":0.012},{"s":25,"x":56,"y":0.0105},
{"s":26,"x":7,"y":0.035},{"s":26,"x":12,"y":0.0315},{"s":26,"x":18,"y":0.0265},{"s":26,"x":25,"y":0.021},{"s":26,"x":33,"y":0.0155},{"s":26,"x":43,"y":0.0105},{"s":26,"x":56,"y":0.0065},
{"s":27,"x":7,"y":0.041},{"s":27,"x":12,"y":0.034},{"s":27,"x":18,"y":0.026},{"s":27,"x":25,"y":0.0185},{"s":27,"x":33,"y":0.012},{"s":27,"x":43,"y":0.0065},{"s":27,"x":56,"y":0.003},
{"s":28,"x":7,"y":0.06},{"s":28,"x":12,"y":0.048},{"s":28,"x":18,"y":0.035},{"s":28,"x":25,"y":0.024},{"s":28,"x":33,"y":0.0155},{"s":28,"x":43,"y":0.0095},{"s":28,"x":56,"y":0.005},
{"s":29,"x":7,"y":0.065},{"s":29,"x":12,"y":0.052},{"s":29,"x":18,"y":0.038},{"s":29,"x":25,"y":0.026},{"s":29,"x":33,"y":0.017},{"s":29,"x":43,"y":0.0115},{"s":29,"x":56,"y":0.0085},
{"s":30,"x":7,"y":0.022},{"s":30,"x":12,"y":0.0215},{"s":30,"x":18,"y":0.021},{"s":30,"x":25,"y":0.0195},{"s":30,"x":33,"y":0.0175},{"s":30,"x":43,"y":0.0155},{"s":30,"x":56,"y":0.014},
{"s":31,"x":7,"y":0.0145},{"s":31,"x":12,"y":0.015},{"s":31,"x":18,"y":0.016},{"s":31,"x":25,"y":0.0165},{"s":31,"x":33,"y":0.0165},{"s":31,"x":43,"y":0.016},{"s":31,"x":56,"y":0.016},
{"s":32,"x":7,"y":0.025},{"s":32,"x":12,"y":0.025},{"s":32,"x":18,"y":0.025},{"s":32,"x":25,"y":0.0235},{"s":32,"x":33,"y":0.021},{"s":32,"x":43,"y":0.0165},{"s":32,"x":56,"y":0.0105},
{"s":33,"x":7,"y":0.021},{"s":33,"x":12,"y":0.0205},{"s":33,"x":18,"y":0.02},{"s":33,"x":25,"y":0.019},{"s":33,"x":33,"y":0.0175},{"s":33,"x":43,"y":0.0155},{"s":33,"x":56,"y":0.0135},
{"s":34,"x":7,"y":0.0455},{"s":34,"x":12,"y":0.0365},{"s":34,"x":18,"y":0.0275},{"s":34,"x":25,"y":0.02},{"s":34,"x":33,"y":0.0145},{"s":34,"x":43,"y":0.0105},{"s":34,"x":56,"y":0.0085}
 ],
 "mean": [
{"p":"a","x":7,"y":0.0221},{"p":"a","x":12,"y":0.0213},{"p":"a","x":18,"y":0.0205},{"p":"a","x":24,"y":0.0195},{"p":"a","x":28,"y":0.0185},{"p":"a","x":34,"y":0.017},{"p":"a","x":40,"y":0.0155},{"p":"a","x":46,"y":0.0141},{"p":"a","x":52,"y":0.0129},{"p":"a","x":58,"y":0.0118},{"p":"a","x":64,"y":0.0107},{"p":"a","x":70,"y":0.0098},
{"p":"b","x":4,"y":0.0515},{"p":"b","x":5,"y":0.046},{"p":"b","x":6,"y":0.0405},{"p":"b","x":7,"y":0.036},{"p":"b","x":8,"y":0.0325},{"p":"b","x":9,"y":0.0302},{"p":"b","x":11,"y":0.0282},{"p":"b","x":15,"y":0.0255},{"p":"b","x":20,"y":0.0218},{"p":"b","x":25,"y":0.0185},{"p":"b","x":30,"y":0.0157},{"p":"b","x":35,"y":0.0135},{"p":"b","x":40,"y":0.0118},{"p":"b","x":45,"y":0.0108},{"p":"b","x":50,"y":0.0103},{"p":"b","x":56,"y":0.0102},
{"p":"c","x":11,"y":0.015},{"p":"c","x":15,"y":0.0147},{"p":"c","x":20,"y":0.0144},{"p":"c","x":30,"y":0.0139},{"p":"c","x":40,"y":0.0134},{"p":"c","x":50,"y":0.0129},{"p":"c","x":55,"y":0.0125},{"p":"c","x":60,"y":0.012},{"p":"c","x":65,"y":0.01135},{"p":"c","x":70,"y":0.0107},{"p":"c","x":75,"y":0.0102},{"p":"c","x":80,"y":0.0098},{"p":"c","x":85,"y":0.0095},{"p":"c","x":91,"y":0.0092},
{"p":"d","x":11,"y":0.0209},{"p":"d","x":15,"y":0.0195},{"p":"d","x":20,"y":0.018},{"p":"d","x":25,"y":0.0165},{"p":"d","x":30,"y":0.0151},{"p":"d","x":35,"y":0.0138},{"p":"d","x":40,"y":0.0127},{"p":"d","x":45,"y":0.0118},{"p":"d","x":50,"y":0.0111},{"p":"d","x":55,"y":0.0105},{"p":"d","x":60,"y":0.0101},{"p":"d","x":65,"y":0.0098},{"p":"d","x":70,"y":0.0096},{"p":"d","x":80,"y":0.0095},{"p":"d","x":91,"y":0.0096},
{"p":"e","x":11,"y":0.0161},{"p":"e","x":15,"y":0.0158},{"p":"e","x":20,"y":0.0155},{"p":"e","x":25,"y":0.0153},{"p":"e","x":30,"y":0.015},{"p":"e","x":35,"y":0.0145},{"p":"e","x":40,"y":0.0138},{"p":"e","x":45,"y":0.0131},{"p":"e","x":50,"y":0.0124},{"p":"e","x":55,"y":0.0117},{"p":"e","x":60,"y":0.0111},{"p":"e","x":65,"y":0.0105},{"p":"e","x":70,"y":0.01},{"p":"e","x":75,"y":0.0097},{"p":"e","x":80,"y":0.0095},{"p":"e","x":85,"y":0.0095},{"p":"e","x":91,"y":0.0096},
{"p":"f","x":7,"y":0.043},{"p":"f","x":10,"y":0.0385},{"p":"f","x":13,"y":0.0345},{"p":"f","x":16,"y":0.031},{"p":"f","x":20,"y":0.027},{"p":"f","x":25,"y":0.0228},{"p":"f","x":30,"y":0.0195},{"p":"f","x":35,"y":0.0168},{"p":"f","x":40,"y":0.015},{"p":"f","x":45,"y":0.0138},{"p":"f","x":50,"y":0.013},{"p":"f","x":56,"y":0.0127}
 ],
 "cl": [
{"p":"a","x":28,"y":0.0014,"y2":0.0332},{"p":"b","x":32,"y":0.0025,"y2":0.0774},{"p":"c","x":15,"y":0.0009,"y2":0.02245},{"p":"d","x":31,"y":0.0013,"y2":0.0314},{"p":"e","x":25,"y":0.001,"y2":0.0243},{"p":"f","x":22,"y":0.0025,"y2":0.065}
 ],
 "refline": [{"p":"b","x":30,"y":0,"y2":0.0774}],
 "band": [{"p":"c","x":10,"x2":15,"y":0,"y2":0.02245}],
 "status": [
{"p":"a","x":86.1,"y":0.0309},{"p":"b","x":85.9,"y":0.0723},{"p":"c","x":86.1,"y":0.021},{"p":"d","x":85.9,"y":0.0294},{"p":"e","x":86.1,"y":0.0226},{"p":"f","x":85.9,"y":0.0605}
 ],
 "letters": [
{"p":"a","x":84.8,"y":0.0281,"t":"a"},{"p":"b","x":86.2,"y":0.0638,"t":"b"},{"p":"c","x":82.5,"y":0.01845,"t":"c"},{"p":"d","x":85.6,"y":0.026,"t":"d"},{"p":"e","x":85,"y":0.0211,"t":"e"},{"p":"f","x":84.6,"y":0.0548,"t":"f"}
 ]
},
"columns": 2,
"spacing": {"row": 124, "column": 86},
"bounds": "flush",
"concat": [
 {"width": 364, "height": 291,
  "title": {"text": ["2160\u00a0\u00a0\u00a0\u00a0[Dry shrub, 22 species]", "Dunes with Hippophae rhamnoides"]},
  "encoding": {
   "x": {"field": "x", "type": "quantitative", "scale": {"domain": [0, 91.5], "nice": false, "zero": false}, "axis": {"values": [0,10,20,30,40,50,60,70,80,90], "format": "d", "title": null}},
   "y": {"field": "y", "type": "quantitative", "scale": {"domain": [0, 0.0332], "nice": false, "zero": false}, "axis": {"values": [0,0.01,0.02,0.03], "format": ".2f", "title": "Normalized\u00a0 Presence"}}
  },
  "layer": [
   {"data": {"name": "a"}, "mark": {"type": "line", "clip": true, "interpolate": "monotone", "color": "#999999", "strokeOpacity": 0.6, "strokeWidth": 1.1}, "encoding": {"detail": {"field": "s", "type": "nominal"}}},
   {"data": {"name": "mean"}, "transform": [{"filter": "datum.p == 'a'"}], "mark": {"type": "line", "clip": true, "interpolate": "monotone", "color": "black", "strokeWidth": 3.5}},
   {"data": {"name": "cl"}, "transform": [{"filter": "datum.p == 'a'"}], "mark": {"type": "rule", "color": "#2e8b40", "strokeWidth": 3, "strokeDash": [11, 11]}, "encoding": {"y2": {"field": "y2"}}},
   {"data": {"name": "status"}, "transform": [{"filter": "datum.p == 'a'"}], "mark": {"type": "point", "shape": "circle", "size": 480, "filled": true, "opacity": 1, "fill": {"gradient": "radial", "x1": 0.38, "y1": 0.32, "r1": 0.02, "x2": 0.5, "y2": 0.5, "r2": 0.55, "stops": [{"offset": 0, "color": "#ffffc0"}, {"offset": 0.35, "color": "#ffe81a"}, {"offset": 0.8, "color": "#e0b800"}, {"offset": 1, "color": "#a08000"}]}, "stroke": "#705a00", "strokeWidth": 0.8}},
   {"data": {"name": "letters"}, "transform": [{"filter": "datum.p == 'a'"}], "mark": {"type": "text", "fontSize": 10, "color": "#333"}, "encoding": {"text": {"field": "t"}}}
  ]
 },
 {"width": 364, "height": 291,
  "title": {"text": ["2170\u00a0\u00a0\u00a0\u00a0[Wet dwarf shrub, 5 species]", "Dunes with Salix repens ssp. argentea"]},
  "encoding": {
   "x": {"field": "x", "type": "quantitative", "scale": {"domain": [0, 91.5], "nice": false, "zero": false}, "axis": {"values": [0,10,20,30,40,50,60,70,80,90], "format": "d", "title": null}},
   "y": {"field": "y", "type": "quantitative", "scale": {"domain": [0, 0.0774], "nice": false, "zero": false}, "axis": {"values": [0,0.01,0.02,0.03,0.04,0.05,0.06,0.07], "format": ".2f", "title": null}}
  },
  "layer": [
   {"data": {"name": "refline"}, "mark": {"type": "rule", "color": "#e090c8", "strokeWidth": 1, "strokeDash": [2, 3]}, "encoding": {"y2": {"field": "y2"}}},
   {"data": {"name": "b"}, "mark": {"type": "line", "clip": true, "interpolate": "monotone", "color": "#999999", "strokeOpacity": 0.6, "strokeWidth": 1.1}, "encoding": {"detail": {"field": "s", "type": "nominal"}}},
   {"data": {"name": "mean"}, "transform": [{"filter": "datum.p == 'b'"}], "mark": {"type": "line", "clip": true, "interpolate": "monotone", "color": "black", "strokeWidth": 3.5}},
   {"data": {"name": "cl"}, "transform": [{"filter": "datum.p == 'b'"}], "mark": {"type": "rule", "color": "#2e8b40", "strokeWidth": 3, "strokeDash": [11, 11]}, "encoding": {"y2": {"field": "y2"}}},
   {"data": {"name": "status"}, "transform": [{"filter": "datum.p == 'b'"}], "mark": {"type": "point", "shape": "circle", "size": 480, "filled": true, "opacity": 1, "fill": {"gradient": "radial", "x1": 0.38, "y1": 0.32, "r1": 0.02, "x2": 0.5, "y2": 0.5, "r2": 0.55, "stops": [{"offset": 0, "color": "#ff9a9a"}, {"offset": 0.35, "color": "#f01010"}, {"offset": 0.8, "color": "#c00000"}, {"offset": 1, "color": "#700000"}]}, "stroke": "#500000", "strokeWidth": 0.8}},
   {"data": {"name": "letters"}, "transform": [{"filter": "datum.p == 'b'"}], "mark": {"type": "text", "fontSize": 10, "color": "#333"}, "encoding": {"text": {"field": "t"}}}
  ]
 },
 {"width": 364, "height": 291,
  "title": {"text": ["2180A\u00a0\u00a0\u00a0\u00a0[Dry deciduous forest, 23 species]", "Wooded dunes (dry)"]},
  "encoding": {
   "x": {"field": "x", "type": "quantitative", "scale": {"domain": [0, 91.5], "nice": false, "zero": false}, "axis": {"values": [0,10,20,30,40,50,60,70,80,90], "format": "d", "title": null}},
   "y": {"field": "y", "type": "quantitative", "scale": {"domain": [0, 0.02245], "nice": false, "zero": false}, "axis": {"values": [0,0.01,0.02], "format": ".2f", "title": "Normalized\u00a0 Presence"}}
  },
  "layer": [
   {"data": {"name": "band"}, "mark": {"type": "rect", "color": "#9edc9e", "opacity": 0.55}, "encoding": {"x2": {"field": "x2"}, "y2": {"field": "y2"}}},
   {"data": {"name": "c"}, "mark": {"type": "line", "clip": true, "interpolate": "monotone", "color": "#999999", "strokeOpacity": 0.6, "strokeWidth": 1.1}, "encoding": {"detail": {"field": "s", "type": "nominal"}}},
   {"data": {"name": "mean"}, "transform": [{"filter": "datum.p == 'c'"}], "mark": {"type": "line", "clip": true, "interpolate": "monotone", "color": "black", "strokeWidth": 3.5}},
   {"data": {"name": "cl"}, "transform": [{"filter": "datum.p == 'c'"}], "mark": {"type": "rule", "color": "#1e6e30", "strokeWidth": 3, "strokeDash": [11, 11]}, "encoding": {"y2": {"field": "y2"}}},
   {"data": {"name": "status"}, "transform": [{"filter": "datum.p == 'c'"}], "mark": {"type": "point", "shape": "circle", "size": 480, "filled": true, "opacity": 1, "fill": {"gradient": "radial", "x1": 0.38, "y1": 0.32, "r1": 0.02, "x2": 0.5, "y2": 0.5, "r2": 0.55, "stops": [{"offset": 0, "color": "#ffffc0"}, {"offset": 0.35, "color": "#ffe81a"}, {"offset": 0.8, "color": "#e0b800"}, {"offset": 1, "color": "#a08000"}]}, "stroke": "#705a00", "strokeWidth": 0.8}},
   {"data": {"name": "letters"}, "transform": [{"filter": "datum.p == 'c'"}], "mark": {"type": "text", "fontSize": 10, "color": "#333"}, "encoding": {"text": {"field": "t"}}}
  ]
 },
 {"width": 364, "height": 291,
  "title": {"text": ["2180B\u00a0\u00a0\u00a0\u00a0[Wet deciduous forest, 49 species]", "Wooded dunes (moist)"]},
  "encoding": {
   "x": {"field": "x", "type": "quantitative", "scale": {"domain": [0, 91.5], "nice": false, "zero": false}, "axis": {"values": [0,10,20,30,40,50,60,70,80,90], "format": "d", "title": null}},
   "y": {"field": "y", "type": "quantitative", "scale": {"domain": [0, 0.0314], "nice": false, "zero": false}, "axis": {"values": [0,0.01,0.02,0.03], "format": ".2f", "title": null}}
  },
  "layer": [
   {"data": {"name": "d"}, "mark": {"type": "line", "clip": true, "interpolate": "monotone", "color": "#999999", "strokeOpacity": 0.6, "strokeWidth": 1.1}, "encoding": {"detail": {"field": "s", "type": "nominal"}}},
   {"data": {"name": "mean"}, "transform": [{"filter": "datum.p == 'd'"}], "mark": {"type": "line", "clip": true, "interpolate": "monotone", "color": "black", "strokeWidth": 3.5}},
   {"data": {"name": "cl"}, "transform": [{"filter": "datum.p == 'd'"}], "mark": {"type": "rule", "color": "#2e8b40", "strokeWidth": 3, "strokeDash": [11, 11]}, "encoding": {"y2": {"field": "y2"}}},
   {"data": {"name": "status"}, "transform": [{"filter": "datum.p == 'd'"}], "mark": {"type": "point", "shape": "circle", "size": 480, "filled": true, "opacity": 1, "fill": {"gradient": "radial", "x1": 0.38, "y1": 0.32, "r1": 0.02, "x2": 0.5, "y2": 0.5, "r2": 0.55, "stops": [{"offset": 0, "color": "#a0f0a0"}, {"offset": 0.35, "color": "#20b030"}, {"offset": 0.8, "color": "#109020"}, {"offset": 1, "color": "#005010"}]}, "stroke": "#004010", "strokeWidth": 0.8}},
   {"data": {"name": "letters"}, "transform": [{"filter": "datum.p == 'd'"}], "mark": {"type": "text", "fontSize": 10, "color": "#333"}, "encoding": {"text": {"field": "t"}}}
  ]
 },
 {"width": 364, "height": 291,
  "title": {"text": ["2180C\u00a0\u00a0\u00a0\u00a0[Dry deciduous forest, 56 species]", "Wooded dunes (inner dune)"]},
  "encoding": {
   "x": {"field": "x", "type": "quantitative", "scale": {"domain": [0, 91.5], "nice": false, "zero": false}, "axis": {"values": [0,10,20,30,40,50,60,70,80,90], "format": "d", "title": "N deposition (kg/ha/y)"}},
   "y": {"field": "y", "type": "quantitative", "scale": {"domain": [0, 0.0243], "nice": false, "zero": false}, "axis": {"values": [0,0.01,0.02], "format": ".2f", "title": "Normalized\u00a0 Presence"}}
  },
  "layer": [
   {"data": {"name": "e"}, "mark": {"type": "line", "clip": true, "interpolate": "monotone", "color": "#999999", "strokeOpacity": 0.6, "strokeWidth": 1.1}, "encoding": {"detail": {"field": "s", "type": "nominal"}}},
   {"data": {"name": "mean"}, "transform": [{"filter": "datum.p == 'e'"}], "mark": {"type": "line", "clip": true, "interpolate": "monotone", "color": "black", "strokeWidth": 3.5}},
   {"data": {"name": "cl"}, "transform": [{"filter": "datum.p == 'e'"}], "mark": {"type": "rule", "color": "#2e8b40", "strokeWidth": 3, "strokeDash": [11, 11]}, "encoding": {"y2": {"field": "y2"}}},
   {"data": {"name": "status"}, "transform": [{"filter": "datum.p == 'e'"}], "mark": {"type": "point", "shape": "circle", "size": 480, "filled": true, "opacity": 1, "fill": {"gradient": "radial", "x1": 0.38, "y1": 0.32, "r1": 0.02, "x2": 0.5, "y2": 0.5, "r2": 0.55, "stops": [{"offset": 0, "color": "#a0f0a0"}, {"offset": 0.35, "color": "#20b030"}, {"offset": 0.8, "color": "#109020"}, {"offset": 1, "color": "#005010"}]}, "stroke": "#004010", "strokeWidth": 0.8}},
   {"data": {"name": "letters"}, "transform": [{"filter": "datum.p == 'e'"}], "mark": {"type": "text", "fontSize": 10, "color": "#333"}, "encoding": {"text": {"field": "t"}}}
  ]
 },
 {"width": 364, "height": 291,
  "title": {"text": ["2190A\u00a0\u00a0\u00a0\u00a0[Water, 34 species]", "Humid dune slacks (open water)"]},
  "encoding": {
   "x": {"field": "x", "type": "quantitative", "scale": {"domain": [0, 91.5], "nice": false, "zero": false}, "axis": {"values": [0,10,20,30,40,50,60,70,80,90], "format": "d", "title": "N deposition (kg/ha/y)"}},
   "y": {"field": "y", "type": "quantitative", "scale": {"domain": [0, 0.065], "nice": false, "zero": false}, "axis": {"values": [0,0.01,0.02,0.03,0.04,0.05,0.06], "format": ".2f", "title": null}}
  },
  "layer": [
   {"data": {"name": "f"}, "mark": {"type": "line", "clip": true, "interpolate": "monotone", "color": "#999999", "strokeOpacity": 0.6, "strokeWidth": 1.1}, "encoding": {"detail": {"field": "s", "type": "nominal"}}},
   {"data": {"name": "mean"}, "transform": [{"filter": "datum.p == 'f'"}], "mark": {"type": "line", "clip": true, "interpolate": "monotone", "color": "black", "strokeWidth": 3.5}},
   {"data": {"name": "cl"}, "transform": [{"filter": "datum.p == 'f'"}], "mark": {"type": "rule", "color": "#2e8b40", "strokeWidth": 3, "strokeDash": [11, 11]}, "encoding": {"y2": {"field": "y2"}}},
   {"data": {"name": "status"}, "transform": [{"filter": "datum.p == 'f'"}], "mark": {"type": "point", "shape": "circle", "size": 480, "filled": true, "opacity": 1, "fill": {"gradient": "radial", "x1": 0.38, "y1": 0.32, "r1": 0.02, "x2": 0.5, "y2": 0.5, "r2": 0.55, "stops": [{"offset": 0, "color": "#a0f0a0"}, {"offset": 0.35, "color": "#20b030"}, {"offset": 0.8, "color": "#109020"}, {"offset": 1, "color": "#005010"}]}, "stroke": "#004010", "strokeWidth": 0.8}},
   {"data": {"name": "letters"}, "transform": [{"filter": "datum.p == 'f'"}], "mark": {"type": "text", "fontSize": 10, "color": "#333"}, "encoding": {"text": {"field": "t"}}}
  ]
 }
]
}
